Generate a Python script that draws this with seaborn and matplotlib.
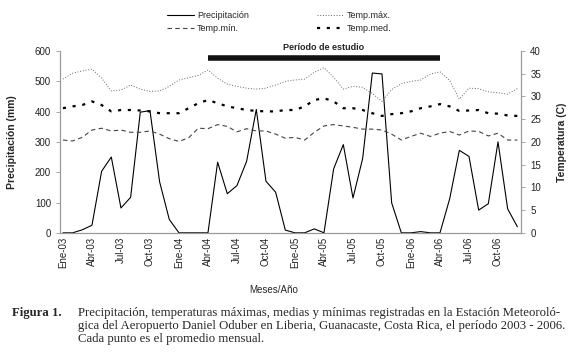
import numpy as np
import pandas as pd
import seaborn as sns
import matplotlib.pyplot as plt

# monthly data Jan-2003 .. Dec-2006
meses = ["Ene", "Feb", "Mar", "Abr", "May", "Jun", "Jul", "Ago", "Sep", "Oct", "Nov", "Dic"]
anios = ["03", "04", "05", "06"]
etiquetas = [m + "-" + a for a in anios for m in meses]

precipitacion = [0, 0, 10, 25, 203, 250, 82, 117, 398, 403, 168, 44,
                 0, 0, 0, 0, 233, 129, 156, 236, 407, 170, 134, 9,
                 0, 0, 13, 0, 211, 291, 115, 245, 527, 524, 99, 0,
                 0, 4, 0, 0, 112, 272, 252, 75, 96, 300, 79, 20]

temp_max = [33.8, 35.1, 35.6, 36.0, 34.0, 31.2, 31.4, 32.5, 31.6, 31.1, 31.2, 32.2,
            33.6, 34.1, 34.6, 35.8, 34.0, 32.7, 32.2, 31.8, 31.6, 31.8, 32.5, 33.3,
            33.6, 33.8, 35.3, 36.3, 34.2, 31.6, 32.2, 32.0, 30.6, 28.9, 31.5, 32.8,
            33.3, 33.6, 34.9, 35.4, 33.5, 29.4, 31.8, 31.7, 31.0, 30.8, 30.5, 31.7]

temp_min = [20.4, 20.2, 21.0, 22.6, 23.0, 22.4, 22.6, 22.1, 22.1, 22.4, 21.7, 20.7,
            20.1, 20.9, 23.0, 22.9, 23.8, 23.4, 22.2, 22.9, 22.4, 22.4, 21.7, 20.8,
            21.0, 20.4, 22.1, 23.5, 23.8, 23.5, 23.2, 22.8, 22.8, 22.6, 21.7, 20.4,
            21.2, 21.9, 21.2, 21.9, 22.3, 21.5, 22.4, 22.3, 21.3, 21.9, 20.4, 20.4]

temp_med = [27.4, 27.8, 28.1, 28.9, 28.1, 26.7, 27.0, 27.0, 26.9, 26.7, 26.3, 26.3,
            26.3, 27.4, 28.5, 29.2, 28.5, 27.8, 27.4, 27.0, 26.8, 26.7, 26.7, 27.0,
            27.0, 27.8, 29.2, 29.6, 28.9, 27.4, 27.4, 27.0, 26.3, 25.7, 26.1, 26.3,
            26.7, 27.4, 27.8, 28.3, 27.8, 26.8, 26.9, 27.0, 26.3, 26.2, 25.8, 25.7]

inicio_estudio = "Abr-04"
fin_estudio = "Abr-06"

df = pd.DataFrame({
    "mes": np.arange(len(etiquetas)),
    "Precipitación": precipitacion,
    "Temp.máx.": temp_max,
    "Temp.mín.": temp_min,
    "Temp.med.": temp_med,
})

sns.set_theme(style="white")
plt.rcParams["font.family"] = ["Liberation Sans", "DejaVu Sans"]

fig, ax = plt.subplots(figsize=(5.83, 3.56), dpi=100)
fig.subplots_adjust(left=0.103, right=0.894, top=0.857, bottom=0.346)
ax2 = ax.twinx()

sns.lineplot(data=df, x="mes", y="Precipitación", ax=ax, color="black", lw=0.8,
             label="Precipitación", legend=False)
sns.lineplot(data=df, x="mes", y="Temp.mín.", ax=ax2, color="#444444", lw=0.8,
             label="Temp.mín.", legend=False)
sns.lineplot(data=df, x="mes", y="Temp.máx.", ax=ax2, color="#666666", lw=0.7,
             label="Temp.máx.", legend=False)
sns.lineplot(data=df, x="mes", y="Temp.med.", ax=ax2, color="black", lw=1.6,
             label="Temp.med.", legend=False)
ax2.lines[0].set_dashes([4, 3])
ax2.lines[1].set_dashes([1, 1.8])
ax2.lines[2].set_dashes([1.4, 3.0])

ax.set_ylim(0, 600)
ax2.set_ylim(0, 40)
ax.set_xlim(-0.3, len(etiquetas) - 0.6)

grey = "#9a9a9a"
for a in (ax, ax2):
    for s in a.spines.values():
        s.set_color(grey)
        s.set_linewidth(0.8)
    a.spines["top"].set_visible(False)
    a.tick_params(colors="#222222", labelsize=7, length=3, width=0.6)
    a.set_xlabel("")
ax.tick_params(axis="y", colors=grey, labelcolor="#222222")
ax2.tick_params(axis="y", colors=grey, labelcolor="#222222")
ax.set_yticks(range(0, 601, 100))
ax2.set_yticks(range(0, 41, 5))
ax.set_xticks(df["mes"][::3])
ax.set_xticklabels(etiquetas[::3], rotation=90, fontsize=7)
ax.tick_params(axis="x", length=0, pad=3)

ax.set_ylabel("Precipitación (mm)", fontsize=7.5, fontweight="bold")
ax.yaxis.set_label_coords(-0.093, 0.5)
ax2.set_ylabel("Temperatura (C)", fontsize=7.5, fontweight="bold")
ax2.yaxis.set_label_coords(1.078, 0.5)

# study period bar
i0 = etiquetas.index(inicio_estudio)
i1 = etiquetas.index(fin_estudio)
ax.plot([i0, i1], [578, 578], color="#111111", lw=4, solid_capstyle="butt", clip_on=False)
ax.text((i0 + i1) / 2, 597, "Período de estudio", ha="center", va="bottom",
        fontsize=6.5, fontweight="bold")

h1, l1 = ax.get_legend_handles_labels()
h2, l2 = ax2.get_legend_handles_labels()
handles = h1 + [h2[0], h2[1], h2[2]]
labels = l1 + [l2[0], l2[1], l2[2]]
fig.legend(handles, labels, ncol=2, loc="center", bbox_to_anchor=(0.479, 0.938),
           frameon=False, fontsize=6.5, handlelength=3, columnspacing=7.5,
           handletextpad=0.3, labelspacing=0.5)

fig.text(0.47, 0.185, "Meses/Año", ha="center", va="center", fontsize=7)

serif = ["Liberation Serif", "DejaVu Serif"]
fig.text(0.02, 0.112, "Figura 1.", family=serif, fontweight="bold", fontsize=9.2, va="baseline")
caption = ["Precipitación, temperaturas máximas, medias y mínimas registradas en la Estación Meteoroló-",
           "gica del Aeropuerto Daniel Oduber en Liberia, Guanacaste, Costa Rica, el período 2003 - 2006.",
           "Cada punto es el promedio mensual."]
for k, linea in enumerate(caption):
    fig.text(0.134, 0.112 - k * 0.0365, linea, family=serif, fontsize=9.2, va="baseline")

fig.savefig("out.png", dpi=100)
